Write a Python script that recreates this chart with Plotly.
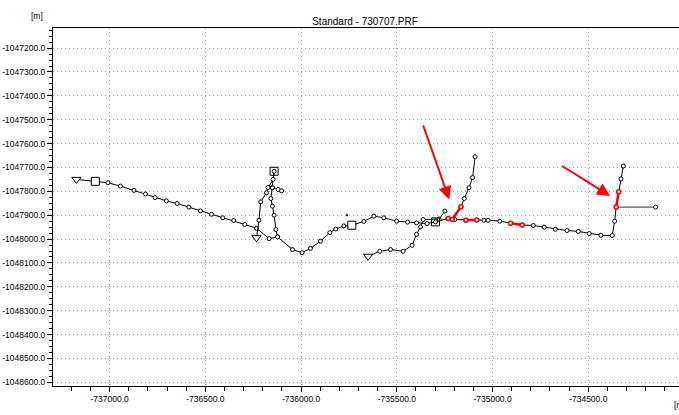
import plotly.graph_objects as go

# ---------------- axis ticks ----------------
x_ticks = [-737000, -736500, -736000, -735500, -735000, -734500]
x_tick_labels = ["-737000.0", "-736500.0", "-736000.0", "-735500.0", "-735000.0", "-734500.0"]
y_ticks = [-1047200, -1047300, -1047400, -1047500, -1047600, -1047700, -1047800,
           -1047900, -1048000, -1048100, -1048200, -1048300, -1048400, -1048500, -1048600]
y_tick_labels = ["-1047200.0", "-1047300.0", "-1047400.0", "-1047500.0", "-1047600.0",
                 "-1047700.0", "-1047800.0", "-1047900.0", "-1048000.0", "-1048100.0",
                 "-1048200.0", "-1048300.0", "-1048400.0", "-1048500.0", "-1048600.0"]

# ---------------- survey lines (easting / northing, m) ----------------
line1_x = [-737174, -737075, -737009, -736944, -736873, -736813, -736763, -736704, -736648,
           -736586, -736526, -736468, -736409, -736352, -736294, -736233, -736167, -736123,
           -736045, -735995, -735951, -735899, -735850, -735819, -735777, -735735, -735672,
           -735620, -735568, -735501, -735444, -735397, -735342, -735298, -735232, -735211,
           -735197, -735139, -735082, -735045, -735023, -734962, -734906, -734845, -734787,
           -734730, -734672, -734611, -734552, -734495, -734434, -734375, -734362, -734354,
           -734341, -734329, -734317]
line1_y = [-1047750, -1047758, -1047764, -1047778, -1047796, -1047811, -1047826, -1047840,
           -1047851, -1047866, -1047882, -1047896, -1047911, -1047922, -1047939, -1047955,
           -1047998, -1047991, -1048044, -1048057, -1048039, -1048009, -1047973, -1047958,
           -1047945, -1047942, -1047926, -1047904, -1047911, -1047925, -1047929, -1047932,
           -1047935, -1047928, -1047914, -1047918, -1047918, -1047921, -1047920, -1047921,
           -1047921, -1047925, -1047934, -1047941, -1047943, -1047950, -1047959, -1047964,
           -1047968, -1047977, -1047984, -1047985, -1047925, -1047866, -1047802, -1047748,
           -1047694]

line2_x = [-736233, -736220, -736211, -736181, -736173, -736146, -736141, -736150, -736158,
           -736150, -736141, -736132, -736123]
line2_y = [-1047994, -1047921, -1047844, -1047806, -1047784, -1047750, -1047716, -1047785,
           -1047830, -1047862, -1047900, -1047960, -1047991]

branch_x = [-736150, -736120, -736102]
branch_y = [-1047785, -1047792, -1047798]

line3_x = [-735650, -735589, -735533, -735467, -735420, -735397, -735376, -735362, -735279, -735249]
line3_y = [-1048072, -1048051, -1048044, -1048051, -1048026, -1047980, -1047949, -1047918,
           -1047916, -1047883]

line4_x = [-735211, -735165, -735148, -735123, -735104, -735091]
line4_y = [-1047918, -1047865, -1047830, -1047785, -1047742, -1047655]

tie_x = [-734354, -734148]
tie_y = [-1047866, -1047866]

# highlighted (red) segments
red_segments = [
    ([-735232, -735211, -735165], [-1047914, -1047918, -1047865]),
    ([-735139, -735082], [-1047921, -1047920]),
    ([-734906, -734845], [-1047934, -1047941]),
    ([-734354, -734341], [-1047866, -1047802]),
]

start_x = [-737174, -736233, -735650]
start_y = [-1047750, -1047994, -1048072]

station_x = [-737075, -736141, -735735, -735298]
station_y = [-1047758, -1047716, -1047942, -1047928]
station_fill = ["white", "rgba(0,0,0,0)", "white", "rgba(0,0,0,0)"]

dot_x = [-735760]
dot_y = [-1047900]

# arrows: (tail_x, tail_y, tip_x, tip_y)
arrows = [
    (-735365, -1047518, -735226, -1047834),
    (-734644, -1047690, -734386, -1047819),
]

TICK_FONT = dict(family="Liberation Sans Narrow, Arial Narrow, sans-serif", size=8.5, color="#000000")

fig = go.Figure()

circle = dict(symbol="circle", size=4, color="white", line=dict(color="black", width=1))

def add_line(xs, ys, skip_first=False):
    fig.add_trace(go.Scatter(x=xs, y=ys, mode="lines", line=dict(color="black", width=1),
                             hoverinfo="skip", showlegend=False))
    mx = xs[1:] if skip_first else xs
    my = ys[1:] if skip_first else ys
    fig.add_trace(go.Scatter(x=mx, y=my, mode="markers", marker=circle,
                             hoverinfo="skip", showlegend=False))

add_line(line1_x, line1_y, skip_first=True)
add_line(line2_x, line2_y, skip_first=True)
add_line(branch_x, branch_y)
add_line(line3_x, line3_y, skip_first=True)
add_line(line4_x, line4_y)

fig.add_trace(go.Scatter(x=tie_x, y=tie_y, mode="lines", line=dict(color="#333333", width=1),
                         hoverinfo="skip", showlegend=False))
fig.add_trace(go.Scatter(x=tie_x[1:], y=tie_y[1:], mode="markers", marker=circle,
                         hoverinfo="skip", showlegend=False))

for sx, sy in red_segments:
    fig.add_trace(go.Scatter(x=sx, y=sy, mode="lines+markers",
                             line=dict(color="#ff0000", width=2.5),
                             marker=dict(symbol="circle", size=4, color="white",
                                         line=dict(color="#ff0000", width=1.5)),
                             hoverinfo="skip", showlegend=False))

fig.add_trace(go.Scatter(x=station_x, y=station_y, mode="markers",
                         marker=dict(symbol="square", size=8, color=station_fill,
                                     line=dict(color="black", width=1)),
                         hoverinfo="skip", showlegend=False))
fig.add_trace(go.Scatter(x=start_x, y=start_y, mode="markers",
                         marker=dict(symbol="triangle-down", size=8, color="white",
                                     line=dict(color="black", width=1)),
                         hoverinfo="skip", showlegend=False))
fig.add_trace(go.Scatter(x=dot_x, y=dot_y, mode="markers",
                         marker=dict(symbol="square", size=2, color="black"),
                         hoverinfo="skip", showlegend=False))

for tx, ty, hx, hy in arrows:
    fig.add_annotation(x=hx, y=hy, ax=tx, ay=ty, xref="x", yref="y", axref="x", ayref="y",
                       showarrow=True, arrowhead=2, arrowsize=1.3, arrowwidth=2,
                       arrowcolor="#ff0000", text="")

fig.add_annotation(text="[m]", xref="paper", yref="paper", x=-0.012, y=1.0, yshift=12,
                   xanchor="right", yanchor="middle", showarrow=False, font=TICK_FONT)
fig.add_annotation(text="[m]", xref="paper", yref="paper", x=0.9895, y=0, yshift=-19,
                   xanchor="left", yanchor="middle", showarrow=False, font=TICK_FONT)

GRID = "#8e9dcc"
fig.update_layout(
    width=679, height=415,
    margin=dict(l=53, r=0, t=28, b=29),
    paper_bgcolor="white", plot_bgcolor="white",
    title=dict(text="Standard - 730707.PRF", x=365/679, xref="container", xanchor="center",
               y=1 - 21/415, yref="container", yanchor="middle",
               font=dict(family="Liberation Sans, Arial, sans-serif", size=10, color="#000000")),
    xaxis=dict(range=[-737296, -734026], tickvals=x_ticks, ticktext=x_tick_labels,
               tickfont=TICK_FONT, ticks="outside", ticklen=5, tickcolor="black",
               showline=True, linecolor="black", linewidth=1, mirror=True, automargin=False,
               showgrid=True, gridcolor=GRID, griddash="1px,3px", gridwidth=1, zeroline=False,
               minor=dict(dtick=100, tick0=-737000, ticks="outside", ticklen=4,
                          tickcolor="black", showgrid=False)),
    yaxis=dict(range=[-1048615.5, -1047115.7], tickvals=y_ticks, ticktext=y_tick_labels,
               tickfont=TICK_FONT, ticks="outside", ticklen=5, tickcolor="black",
               showline=True, linecolor="black", linewidth=1, mirror=True, automargin=False,
               showgrid=True, gridcolor=GRID, griddash="1px,3px", gridwidth=1, zeroline=False,
               minor=dict(dtick=25, tick0=-1047200, ticks="outside", ticklen=3,
                          tickcolor="black", showgrid=False)),
)

fig.write_html("out.html", config={"displayModeBar": False, "staticPlot": True},
               post_script="document.body.style.margin='0px';document.body.style.overflow='hidden';")
